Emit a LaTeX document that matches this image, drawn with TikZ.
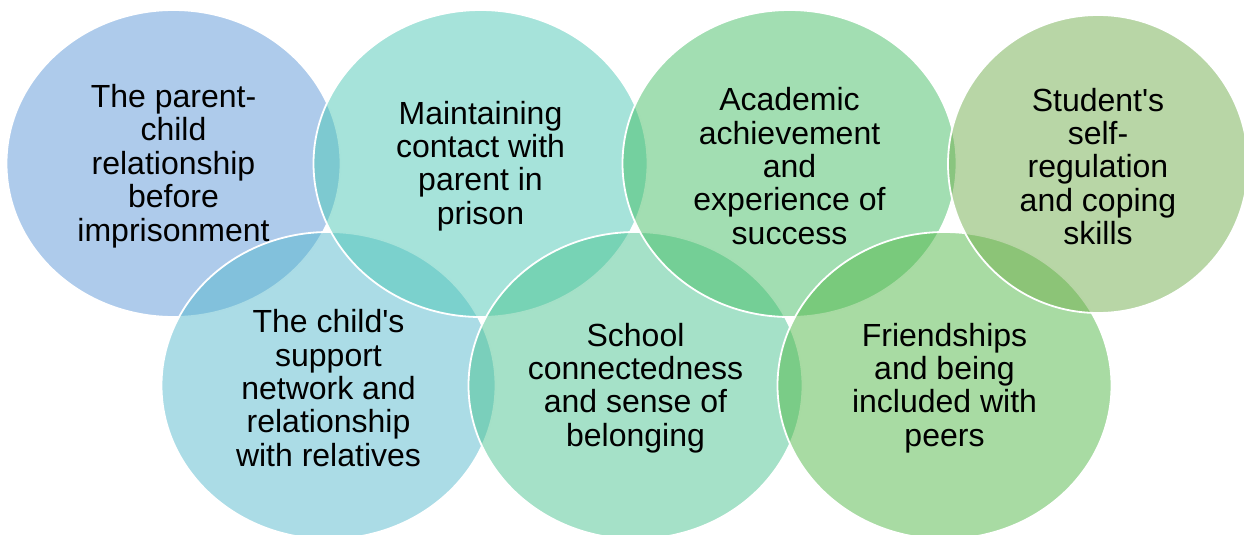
\documentclass[tikz,border=0pt]{standalone}
\usepackage{fontspec}
\setmainfont{Liberation Sans}
\usetikzlibrary{shapes.geometric}
\definecolor{cA}{RGB}{93,151,215}
\definecolor{cB}{RGB}{87,185,205}
\definecolor{cC}{RGB}{77,199,181}
\definecolor{cD}{RGB}{75,195,145}
\definecolor{cE}{RGB}{69,189,101}
\definecolor{cF}{RGB}{81,183,71}
\definecolor{cG}{RGB}{113,173,77}
\tikzset{
  bubble/.style={ellipse, inner sep=0pt, fill opacity=0.5, draw=white, draw opacity=1,
    line width=1.8pt, minimum width=334pt, minimum height=307pt},
  smallbubble/.style={bubble, minimum width=300pt, minimum height=298pt},
  label/.style={align=center, text=black, inner sep=0pt, yshift=-2.5pt,
    font=\fontsize{32}{33.4}\selectfont}
}
\begin{document}
\begin{tikzpicture}[x=1pt,y=-1pt]
\useasboundingbox (0,0) rectangle (1244,535);
\clip (0,0) rectangle (1244,535);
\node[bubble, fill=cA] (A) at (173.5,163.5) {};
\node[bubble, fill=cB] (B) at (328.5,385.5) {};
\node[bubble, fill=cC] (C) at (480.5,163.5) {};
\node[bubble, fill=cD] (D) at (635.5,385.5) {};
\node[bubble, fill=cE] (E) at (789.5,163.5) {};
\node[bubble, fill=cF] (F) at (944.5,385.5) {};
\node[smallbubble, fill=cG] (G) at (1098,164) {};
\node[label] (tA) at (A.center) {The parent-\\child\\relationship\\before\\imprisonment};
\node[label] (tB) at (B.center) {The child\textquotesingle s\\support\\network and\\relationship\\with relatives};
\node[label] (tC) at (C.center) {Maintaining\\contact with\\parent in\\prison};
\node[label] (tD) at (D.center) {School\\connectedness\\and sense of\\belonging};
\node[label] (tE) at (E.center) {Academic\\achievement\\and\\experience of\\success};
\node[label] (tF) at (F.center) {Friendships\\and being\\included with\\peers};
\node[label] (tG) at (G.center) {Student\textquotesingle s\\self-\\regulation\\and coping\\skills};
\end{tikzpicture}
\end{document}
